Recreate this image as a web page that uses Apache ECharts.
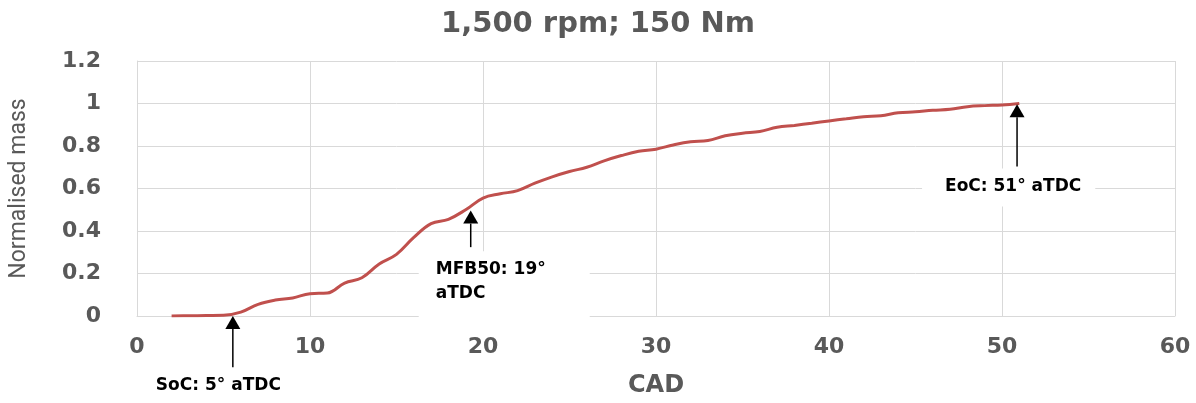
<!DOCTYPE html>
<html>
<head>
<meta charset="utf-8">
<script src="https://cdn.jsdelivr.net/npm/echarts@6/dist/echarts.min.js"></script>
<style>
html,body{margin:0;padding:0;background:#fff;}
#c{width:1196px;height:403px;}
</style>
</head>
<body>
<div id="c"></div>
<script>
const titleText = '1,500 rpm; 150 Nm';
const xName = 'CAD';
const yName = 'Normalised mass';
const cad = [2,3,4,5,6,7,8,9,10,11,12,13,14,15,16,17,18,19,20,21,22,23,24,25,26,27,28,29,30,31,32,33,34,35,36,37,38,39,40,41,42,43,44,45,46,47,48,49,50,51];
const mass = [0,0.001,0.002,0.003,0.018,0.055,0.075,0.085,0.105,0.108,0.155,0.18,0.245,0.29,0.37,0.435,0.455,0.5,0.555,0.575,0.59,0.625,0.655,0.68,0.70,0.73,0.755,0.775,0.785,0.805,0.82,0.826,0.848,0.86,0.868,0.888,0.897,0.907,0.918,0.928,0.938,0.942,0.956,0.961,0.968,0.973,0.985,0.99,0.993,1.0];
const annoText = ['SoC: 5\u00b0 aTDC', 'MFB50: 19\u00b0\naTDC', 'EoC: 51\u00b0 aTDC'];
const annoX = [5.54, 19.29, 50.87];
const annoTip = [0.0, 0.496, 0.996];
const annoBase = [-0.241, 0.324, 0.704];

const chart = echarts.init(document.getElementById('c'));
const gray = '#595959';
const gridColor = '#d9d9d9';
const fontB = 'DejaVu Sans';

chart.setOption({
  animation: false,
  title: {
    text: titleText, left: 'center', top: 5,
    textStyle: {fontFamily: fontB, fontWeight: 'bold', fontSize: 29, color: gray}
  },
  grid: {left: 136, right: 21, top: 61, bottom: 83},
  xAxis: {
    type: 'value', min: 0, max: 60, interval: 10,
    name: xName, nameLocation: 'middle', nameGap: 58,
    nameTextStyle: {fontFamily: fontB, fontWeight: 'bold', fontSize: 24, color: gray},
    axisLine: {show: true, lineStyle: {color: gridColor, width: 1}},
    axisTick: {show: false},
    splitLine: {show: true, lineStyle: {color: gridColor, width: 1}},
    axisLabel: {fontFamily: fontB, fontWeight: 'bold', fontSize: 22, color: gray, margin: 20}
  },
  yAxis: {
    type: 'value', min: 0, max: 1.2, interval: 0.2,
    name: yName, nameLocation: 'middle', nameGap: 106, nameRotate: 90,
    nameTextStyle: {fontFamily: 'Roboto', fontWeight: 'normal', fontSize: 23, color: gray},
    axisLine: {show: true, lineStyle: {color: gridColor, width: 1}},
    axisTick: {show: false},
    splitLine: {show: true, lineStyle: {color: gridColor, width: 1}},
    axisLabel: {fontFamily: fontB, fontWeight: 'bold', fontSize: 22, color: gray, margin: 36,
      formatter: v => String(Math.round(v * 10) / 10)}
  },
  series: [{
    type: 'line',
    data: cad.map((c, i) => [c, mass[i]]),
    smooth: 0.4,
    showSymbol: false,
    lineStyle: {color: '#c0504d', width: 3}
  }]
});

const offsets = [[-79, 4], [-52, 4], [-95, 2]];
const pads = [[2, 2, 2, 2], [6, 44, 14, 17], [6, 14, 8, 23]];
const graphics = [];
annoText.forEach((t, i) => {
  const b = chart.convertToPixel({gridIndex: 0}, [annoX[i], annoBase[i]]);
  const tp = chart.convertToPixel({gridIndex: 0}, [annoX[i], annoTip[i]]);
  const hw = 7.5, hh = 13;
  graphics.push({
    type: 'line', z: 101,
    shape: {x1: b[0], y1: b[1], x2: tp[0], y2: tp[1] + hh},
    style: {stroke: '#000', lineWidth: 1.5}
  });
  graphics.push({
    type: 'polygon', z: 101,
    shape: {points: [[tp[0], tp[1]], [tp[0] - hw, tp[1] + hh], [tp[0] + hw, tp[1] + hh]]},
    style: {fill: '#000'}
  });
  graphics.push({
    type: 'text',
    left: b[0] + offsets[i][0],
    top: b[1] + offsets[i][1],
    z: 100,
    style: {
      text: t,
      fill: '#000',
      font: 'bold 17px "DejaVu Sans"',
      lineHeight: 24,
      backgroundColor: '#fff',
      padding: pads[i]
    }
  });
});
chart.setOption({graphic: graphics});
</script>
</body>
</html>
